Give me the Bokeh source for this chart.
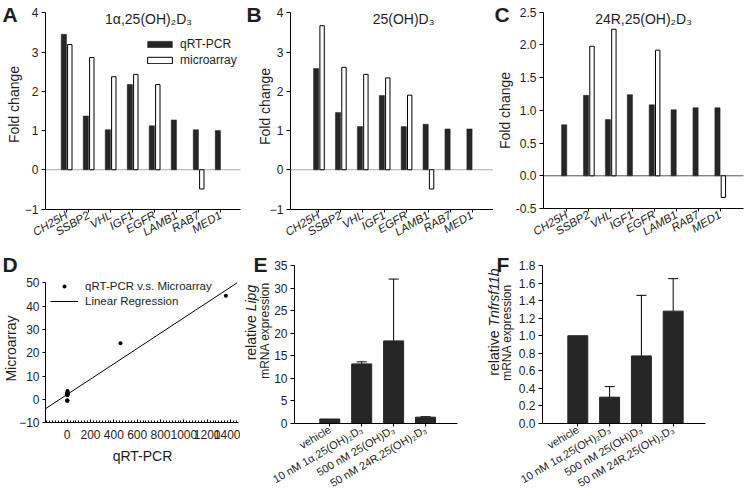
import math
import numpy as np
from bokeh.plotting import figure
from bokeh.layouts import row, column
from bokeh.models import (ColumnDataSource, FixedTicker, Label, Legend, LegendItem,
                          Whisker, TeeHead, NumeralTickFormatter)
from bokeh.embed import file_html
from bokeh.resources import INLINE

FONT = "Liberation Sans"
TXT = "#1e1e1e"
BAR = "#262626"
NAN = float("nan")

# ---------------- data ----------------
genes = ["CH25H", "SSBP2", "VHL", "IGF1", "EGFR", "LAMB1", "RAB7", "MED1"]
a_qpcr = [3.45, 1.37, 1.02, 2.17, 1.12, 1.27, 1.02, 1.00]
a_micro = [3.19, 2.86, 2.37, 2.43, 2.17, NAN, -0.49, NAN]
b_qpcr = [2.58, 1.46, 1.10, 1.89, 1.10, 1.16, 1.04, 1.04]
b_micro = [3.67, 2.61, 2.43, 2.34, 1.90, -0.49, NAN, NAN]
c_qpcr = [0.78, 1.23, 0.86, 1.24, 1.085, 1.01, 1.04, 1.04]
c_micro = [NAN, 1.98, 2.24, NAN, 1.92, NAN, NAN, -0.33]
fold_ticks_ab = [-1, 0, 1, 2, 3, 4]
fold_ticks_c = [-0.5, 0.0, 0.5, 1.0, 1.5, 2.0, 2.5]

d_qpcr = [3.45, 1.37, 1.02, 2.17, 1.12, 1.02, 2.58, 1.46, 1.10, 1.89, 1.10, 1.16,
          1.23, 0.86, 1.085, 1.04, 457, 1360]
d_micro = [3.19, 2.86, 2.37, 2.43, 2.17, -0.49, 3.67, 2.61, 2.43, 2.34, 1.90, -0.49,
           1.98, 2.24, 1.92, -0.33, 24.1, 44.5]
d_xticks = [0, 200, 400, 600, 800, 1000, 1200, 1400]
d_xminor = list(range(-175, 1451, 25))
d_yticks = [-10, 0, 10, 20, 30, 40, 50]

treat = ["vehicle", "10 nM 1\u03b1,25(OH)\u2082D\u2083", "500 nM 25(OH)D\u2083",
         "50 nM 24R,25(OH)\u2082D\u2083"]
e_mean = [1.0, 13.2, 18.3, 1.4]
e_err = [NAN, 0.45, 13.7, 0.1]
f_mean = [1.0, 0.30, 0.77, 1.28]
f_err = [NAN, 0.12, 0.69, 0.37]
e_ticks = [0, 5, 10, 15, 20, 25, 30, 35]
f_ticks = [0.0, 0.2, 0.4, 0.6, 0.8, 1.0, 1.2, 1.4, 1.6, 1.8]

titles = ["1\u03b1,25(OH)\u2082D\u2083", "25(OH)D\u2083", "24R,25(OH)\u2082D\u2083"]


# ---------------- geometry helpers ----------------
def geo(ox, oy, w, h, xa, ya, ax_px, ybounds):
    """ox, oy: page origin; xa/ya: (pixel of data 0, pixels per unit)."""
    g = dict(ox=ox, oy=oy, w=w, h=h, xa=xa, ya=ya)
    g["xr"] = ((ox - xa[0]) / xa[1], (ox + w - xa[0]) / xa[1])
    g["yr"] = ((ya[0] - (oy + h)) / ya[1], (ya[0] - oy) / ya[1])
    g["xb"] = ((ax_px[0] - xa[0]) / xa[1], (ax_px[1] - xa[0]) / xa[1])
    g["yb"] = ybounds
    return g


def dx(g, px):
    return (px - g["xa"][0]) / g["xa"][1]


def dy(g, py):
    return (g["ya"][0] - py) / g["ya"][1]


def present(values):
    return [i for i, v in enumerate(values) if not math.isnan(v)]


def base_fig(g):
    p = figure(width=g["w"], height=g["h"], x_range=g["xr"], y_range=g["yr"],
               output_backend="svg", toolbar_location=None, tools="", min_border=0)
    p.title.visible = False
    p.outline_line_color = None
    p.xgrid.visible = False
    p.ygrid.visible = False
    p.border_fill_color = "white"
    p.background_fill_color = "white"
    p.xaxis.fixed_location = g["yb"][0]
    p.yaxis.fixed_location = g["xb"][0]
    p.xaxis.bounds = g["xb"]
    p.yaxis.bounds = g["yb"]
    for ax in p.axis:
        ax.axis_line_color = "black"
        ax.axis_line_width = 1
        ax.major_tick_line_color = "black"
        ax.minor_tick_line_color = None
        ax.major_tick_in = 0
        ax.major_tick_out = 4
        ax.major_label_standoff = 3
        ax.major_label_text_font = FONT
        ax.major_label_text_font_size = "12px"
        ax.major_label_text_color = TXT
    return p


def put(p, g, text, px, py, size="14px", style="normal", align="center",
        baseline="middle", angle=0.0):
    p.add_layout(Label(x=dx(g, px), y=dy(g, py), text=text, text_font=FONT,
                       text_font_size=size, text_font_style=style, text_color=TXT,
                       text_align=align, text_baseline=baseline, angle=angle))


def fold_panel(g, qpcr, micro, ticks, title, title_x, letter, letter_x, zero_color,
               ylab_xy, fmt=None, legend=False):
    p = base_fig(g)
    x = list(range(len(genes)))
    mi = present(micro)
    src_q = ColumnDataSource(dict(x=[i - 0.12 for i in x], q=qpcr))
    src_m = ColumnDataSource(dict(x=[i + 0.15 for i in mi], m=[micro[i] for i in mi]))
    p.line(x=list(g["xb"]), y=[0, 0], line_color=zero_color, line_width=1)
    rq = p.vbar(x="x", top="q", bottom=0, width=0.24, source=src_q,
                fill_color=BAR, line_color=BAR, line_width=0.5)
    rm = p.vbar(x="x", top="m", bottom=0, width=0.2, source=src_m,
                fill_color="white", line_color="black", line_width=1)
    p.xaxis.ticker = FixedTicker(ticks=x)
    p.xaxis.major_label_overrides = {i: gname for i, gname in enumerate(genes)}
    p.xaxis.major_label_orientation = math.pi / 6
    p.xaxis.major_label_text_font_style = "italic"
    p.xaxis.major_label_text_font_size = "11.5px"
    p.xaxis.major_tick_out = 3
    p.xaxis.major_label_standoff = 2
    p.yaxis.ticker = FixedTicker(ticks=ticks)
    if fmt:
        p.yaxis.formatter = NumeralTickFormatter(format=fmt)
    put(p, g, "Fold change", ylab_xy[0], ylab_xy[1], size="14px", angle=math.pi / 2)
    put(p, g, title, title_x, 18, size="14px")
    put(p, g, letter, letter_x, 13.5, size="21px", style="bold", align="left")
    if legend:
        leg = Legend(items=[LegendItem(label="qRT-PCR", renderers=[rq]),
                            LegendItem(label="microarray", renderers=[rm])],
                     location=(144 - g["ox"], g["h"] - 68), orientation="vertical",
                     glyph_width=31, glyph_height=8, label_height=16, label_standoff=5,
                     padding=0, spacing=0, margin=0, border_line_color=None,
                     background_fill_alpha=0, label_text_font=FONT,
                     label_text_font_size="12px", label_text_color=TXT)
        p.add_layout(leg)
    return p


def expr_panel(g, mean, err, ticks, fmt, letter, letter_x, line1, line2):
    p = base_fig(g)
    x = list(range(len(treat)))
    src = ColumnDataSource(dict(x=x, top=mean))
    p.vbar(x="x", top="top", bottom=0, width=0.627, source=src,
           fill_color=BAR, line_color=BAR)
    ei = present(err)
    src_e = ColumnDataSource(dict(x=ei, top=[mean[i] for i in ei],
                                  upper=[mean[i] + err[i] for i in ei]))
    wk = Whisker(source=src_e, base="x", lower="top", upper="upper", dimension="height",
                 line_color="black", line_width=1,
                 upper_head=TeeHead(size=10, line_color="black", line_width=1),
                 lower_head=TeeHead(size=0, line_alpha=0))
    p.add_layout(wk)
    p.xaxis.ticker = FixedTicker(ticks=x)
    p.xaxis.major_label_overrides = {i: t for i, t in enumerate(treat)}
    p.xaxis.major_label_orientation = 0.53
    p.xaxis.major_label_text_font_size = "11px"
    p.xaxis.major_tick_out = 3
    p.xaxis.major_label_standoff = 2
    p.yaxis.ticker = FixedTicker(ticks=ticks)
    if fmt:
        p.yaxis.formatter = NumeralTickFormatter(format=fmt)
    put(p, g, letter, letter_x, 264, size="21px", style="bold", align="left")
    # rotated two-line y label with italic gene name
    (cx1, y_word1_end, y_word2_start, word1, word2), (cx2, cy2, text2) = line1, line2
    put(p, g, word1, cx1, y_word1_end, size="14px", align="right", angle=math.pi / 2)
    put(p, g, word2, cx1, y_word2_start, size="14px", style="italic", align="left",
        angle=math.pi / 2)
    put(p, g, text2, cx2, cy2, size="12px", align="center", angle=math.pi / 2)
    return p


# ---------------- geometry (page pixels) ----------------
gA = geo(0, 0, 245, 250, (66.0, 22.0), (169.25, 39.25), (45, 240), (-1, 4))
gB = geo(245, 0, 248, 250, (318.3, 21.9), (169.25, 39.25), (290, 493), (-1, 4))
gC = geo(493, 0, 252, 250, (566.3, 21.9), (175.3, 65.43), (543, 743), (-0.5, 2.5))
gD = geo(0, 250, 240, 245, (66.7, 0.116667), (399.0, 2.3333), (45, 238), (-10, 50))
gE = geo(240, 250, 245, 245, (329.3, 31.9), (423.0, 4.514), (294, 457), (0, 35))
gF = geo(485, 250, 260, 245, (577.3, 31.8), (423.0, 87.78), (542, 705), (0, 1.8))

pA = fold_panel(gA, a_qpcr, a_micro, fold_ticks_ab, titles[0], 148, "A", 2,
                "#aaaaaa", (13.5, 104), legend=True)
pB = fold_panel(gB, b_qpcr, b_micro, fold_ticks_ab, titles[1], 403, "B", 246,
                "#aaaaaa", (264, 106))
pC = fold_panel(gC, c_qpcr, c_micro, fold_ticks_c, titles[2], 643, "C", 494,
                "#555555", (504, 110), fmt="0.0")

# ---- panel D ----
pD = base_fig(gD)
r_pts = pD.scatter(d_qpcr, d_micro, size=4, fill_color="black", line_color=None)
slope, icpt = np.polyfit(np.array(d_qpcr), np.array(d_micro), 1)
x_end = min(gD["xb"][1], (gD["yb"][1] - icpt) / slope)
xs = np.array([gD["xb"][0], x_end])
r_line = pD.line(xs, slope * xs + icpt, line_color="black", line_width=1)
pD.xaxis.ticker = FixedTicker(ticks=d_xticks, minor_ticks=d_xminor)
pD.xaxis.major_tick_in = 3
pD.xaxis.major_tick_out = 0
pD.xaxis.minor_tick_line_color = "black"
pD.xaxis.minor_tick_in = 2
pD.xaxis.minor_tick_out = 0
pD.xaxis.major_label_standoff = 7
pD.yaxis.ticker = FixedTicker(ticks=d_yticks)
pD.yaxis.major_tick_out = 3
put(pD, gD, "Microarray", 10, 348, size="14px", angle=math.pi / 2)
put(pD, gD, "qRT-PCR", 142, 455, size="14px")
legD = Legend(items=[LegendItem(label="qRT-PCR v.s. Microarray", renderers=[r_pts]),
                     LegendItem(label="Linear Regression", renderers=[r_line])],
              location=(50 - gD["ox"], gD["h"] - (308.5 - gD["oy"])), orientation="vertical",
              glyph_width=28, glyph_height=10, label_height=15, label_standoff=7,
              padding=0, spacing=0, margin=0, border_line_color=None,
              background_fill_alpha=0, label_text_font=FONT,
              label_text_font_size="11.5px", label_text_color=TXT)
pD.add_layout(legD)
put(pD, gD, "D", 2, 263.5, size="21px", style="bold", align="left")

# ---- panels E, F ----
pE = expr_panel(gE, e_mean, e_err, e_ticks, None, "E", 253,
                (250, 314.7, 310.8, "relative", "Lipg"), (264, 330, "mRNA expression"))
pF = expr_panel(gF, f_mean, f_err, f_ticks, "0.0", "F", 496,
                (493, 330.0, 326.1, "relative", "Tnfrsf11b"), (506, 332, "mRNA expression"))

layout = column(row(pA, pB, pC), row(pD, pE, pF))
open("out.html", "w").write(file_html(layout, INLINE))
